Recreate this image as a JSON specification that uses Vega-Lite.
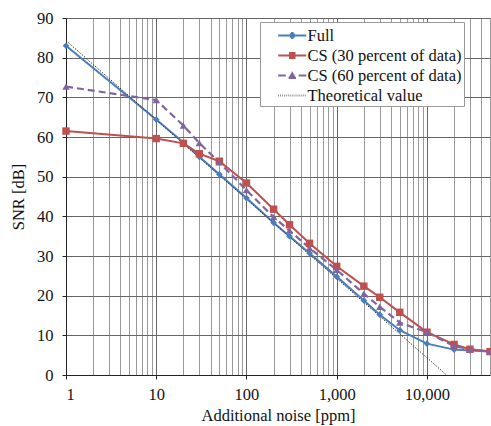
{
  "$schema": "https://vega.github.io/schema/vega-lite/v6.json",
  "width": 424,
  "height": 357,
  "autosize": "none",
  "padding": {"left": 66, "top": 18, "right": 1, "bottom": 51},
  "background": "white",
  "config": {"view": {"stroke": null}, "font": "Liberation Serif"},
  "data": {"values": [
    {"series": "Full", "noise": 1, "snr": 83.0},
    {"series": "Full", "noise": 10, "snr": 64.4},
    {"series": "Full", "noise": 20, "snr": 58.6},
    {"series": "Full", "noise": 30, "snr": 55.0},
    {"series": "Full", "noise": 50, "snr": 50.6},
    {"series": "Full", "noise": 100, "snr": 44.6},
    {"series": "Full", "noise": 200, "snr": 38.4},
    {"series": "Full", "noise": 300, "snr": 35.0},
    {"series": "Full", "noise": 500, "snr": 30.7},
    {"series": "Full", "noise": 1000, "snr": 24.8},
    {"series": "Full", "noise": 2000, "snr": 18.8},
    {"series": "Full", "noise": 3000, "snr": 15.2},
    {"series": "Full", "noise": 5000, "snr": 11.3},
    {"series": "Full", "noise": 10000, "snr": 7.9},
    {"series": "Full", "noise": 20000, "snr": 6.4},
    {"series": "Full", "noise": 30000, "snr": 6.2},
    {"series": "Full", "noise": 50000, "snr": 5.9},
    {"series": "CS (30 percent of data)", "noise": 1, "snr": 61.5},
    {"series": "CS (30 percent of data)", "noise": 10, "snr": 59.6},
    {"series": "CS (30 percent of data)", "noise": 20, "snr": 58.4},
    {"series": "CS (30 percent of data)", "noise": 30, "snr": 55.8},
    {"series": "CS (30 percent of data)", "noise": 50, "snr": 53.9},
    {"series": "CS (30 percent of data)", "noise": 100, "snr": 48.4},
    {"series": "CS (30 percent of data)", "noise": 200, "snr": 41.8},
    {"series": "CS (30 percent of data)", "noise": 300, "snr": 37.9},
    {"series": "CS (30 percent of data)", "noise": 500, "snr": 33.2},
    {"series": "CS (30 percent of data)", "noise": 1000, "snr": 27.4},
    {"series": "CS (30 percent of data)", "noise": 2000, "snr": 22.4},
    {"series": "CS (30 percent of data)", "noise": 3000, "snr": 19.6},
    {"series": "CS (30 percent of data)", "noise": 5000, "snr": 15.8},
    {"series": "CS (30 percent of data)", "noise": 10000, "snr": 10.8},
    {"series": "CS (30 percent of data)", "noise": 20000, "snr": 7.7},
    {"series": "CS (30 percent of data)", "noise": 30000, "snr": 6.5},
    {"series": "CS (30 percent of data)", "noise": 50000, "snr": 5.9},
    {"series": "CS (60 percent of data)", "noise": 1, "snr": 72.7},
    {"series": "CS (60 percent of data)", "noise": 10, "snr": 69.3},
    {"series": "CS (60 percent of data)", "noise": 20, "snr": 62.9},
    {"series": "CS (60 percent of data)", "noise": 30, "snr": 58.5},
    {"series": "CS (60 percent of data)", "noise": 50, "snr": 53.6},
    {"series": "CS (60 percent of data)", "noise": 100, "snr": 46.6},
    {"series": "CS (60 percent of data)", "noise": 200, "snr": 39.8},
    {"series": "CS (60 percent of data)", "noise": 300, "snr": 36.4},
    {"series": "CS (60 percent of data)", "noise": 500, "snr": 32.0},
    {"series": "CS (60 percent of data)", "noise": 1000, "snr": 26.5},
    {"series": "CS (60 percent of data)", "noise": 2000, "snr": 20.5},
    {"series": "CS (60 percent of data)", "noise": 3000, "snr": 17.2},
    {"series": "CS (60 percent of data)", "noise": 5000, "snr": 13.2},
    {"series": "CS (60 percent of data)", "noise": 10000, "snr": 10.8},
    {"series": "CS (60 percent of data)", "noise": 20000, "snr": 7.3},
    {"series": "CS (60 percent of data)", "noise": 30000, "snr": 6.5},
    {"series": "CS (60 percent of data)", "noise": 50000, "snr": 5.9},
    {"series": "Theoretical value", "noise": 1, "snr": 84.3},
    {"series": "Theoretical value", "noise": 16500, "snr": 0}
  ]},
  "encoding": {
    "x": {
      "field": "noise", "type": "quantitative",
      "scale": {"type": "log", "domain": [1, 50000], "nice": false},
      "axis": {
        "title": "Additional noise [ppm]",
        "values": [1,2,3,4,5,6,7,8,9,10,20,30,40,50,60,70,80,90,100,200,300,400,500,600,700,800,900,1000,2000,3000,4000,5000,6000,7000,8000,9000,10000,20000,30000,40000,50000],
        "format": ",",
        "labelExpr": "indexof([1,10,100,1000,10000], datum.value) >= 0 ? datum.label : ''",
        "labelFont": "Liberation Serif", "labelFontSize": 16.5, "labelColor": "#111",
        "labelPadding": 7, "labelOverlap": false,
        "titleFont": "Liberation Serif", "titleFontSize": 16.5, "titleFontWeight": "normal", "titleColor": "#111", "titlePadding": 5,
        "domainColor": "#222", "domainWidth": 1,
        "tickColor": "#222",
        "tickSize": {"condition": {"test": "indexof([1,10,100,1000,10000], datum.value) >= 0", "value": 4}, "value": 0},
        "grid": true,
        "gridColor": {"condition": {"test": "indexof([1,10,100,1000,10000], datum.value) >= 0", "value": "#666"}, "value": "#999999"},
        "gridWidth": 1
      }
    },
    "y": {
      "field": "snr", "type": "quantitative",
      "scale": {"domain": [0, 90], "nice": false},
      "axis": {
        "title": "SNR [dB]",
        "values": [0,10,20,30,40,50,60,70,80,90],
        "labelFont": "Liberation Serif", "labelFontSize": 16.5, "labelColor": "#111",
        "labelPadding": 9,
        "titleFont": "Liberation Serif", "titleFontSize": 16.5, "titleFontWeight": "normal", "titleColor": "#111", "titlePadding": 10,
        "domainColor": "#222", "tickColor": "#222", "tickSize": 4,
        "grid": true, "gridColor": "#666", "gridWidth": 1
      }
    }
  },
  "layer": [
    {
      "transform": [{"filter": "datum.series === 'Full'"}],
      "mark": {"type": "line", "strokeWidth": 2, "color": "#4a7ebb"},
      "encoding": {"order": {"field": "noise", "type": "quantitative"}}
    },
    {
      "transform": [{"filter": "datum.series === 'CS (30 percent of data)'"}],
      "mark": {"type": "line", "strokeWidth": 2, "color": "#c0504d"},
      "encoding": {"order": {"field": "noise", "type": "quantitative"}}
    },
    {
      "transform": [{"filter": "datum.series === 'CS (60 percent of data)'"}],
      "mark": {"type": "line", "strokeWidth": 2.2, "color": "#8064a2", "strokeDash": [7, 4]},
      "encoding": {"order": {"field": "noise", "type": "quantitative"}}
    },
    {
      "transform": [{"filter": "datum.series === 'Theoretical value'"}],
      "mark": {"type": "line", "strokeWidth": 1, "color": "#333", "strokeDash": [1.5, 1.5]},
      "encoding": {}
    },
    {
      "transform": [{"filter": "datum.series === 'Full'"}],
      "mark": {"type": "point", "filled": true, "opacity": 1, "size": 45, "shape": "diamond", "color": "#4a7ebb"},
      "encoding": {}
    },
    {
      "transform": [{"filter": "datum.series === 'CS (30 percent of data)'"}],
      "mark": {"type": "point", "filled": true, "opacity": 1, "size": 55, "shape": "square", "color": "#c0504d"},
      "encoding": {}
    },
    {
      "transform": [{"filter": "datum.series === 'CS (60 percent of data)'"}],
      "mark": {"type": "point", "filled": true, "opacity": 1, "size": 55, "shape": "triangle-up", "color": "#8064a2"},
      "encoding": {}
    },
    {
      "transform": [{"filter": "datum.noise == 1"}],
      "mark": {"type": "point", "filled": false, "opacity": 0},
      "encoding": {
        "color": {"field": "series", "type": "nominal",
          "scale": {"domain": ["Full", "CS (30 percent of data)", "CS (60 percent of data)", "Theoretical value"], "range": ["#4a7ebb", "#c0504d", "#8064a2", "#666666"]},
          "legend": {
            "title": null, "orient": "none", "legendX": 194, "legendY": 4,
            "symbolSize": 420, "symbolStrokeWidth": 2, "symbolOpacity": 1,
            "labelFont": "Liberation Serif", "labelFontSize": 16.5, "labelColor": "#111", "labelOffset": 22.5,
            "labelExpr": "datum.label + '\u00a0\u00a0\u00a0\u00a0\u00a0\u00a0'",
            "padding": 2, "rowPadding": 0, "strokeColor": "#999", "fillColor": "white"
          }},
        "shape": {"field": "series", "type": "nominal",
          "scale": {"domain": ["Full", "CS (30 percent of data)", "CS (60 percent of data)", "Theoretical value"],
            "range": [
              "M0.46,0H3.2M1.71,-0.24H1.95M1.59,-0.12H2.07M1.71,0.24H1.95M1.59,0.12H2.07",
              "M0.46,0H3.2M1.51,-0.24H2.15M1.51,-0.12H2.15M1.51,0.12H2.15M1.51,0.24H2.15",
              "M0.46,0H1.2M2.46,0H3.2M1.76,-0.26H1.9M1.685,-0.13H1.975M1.61,0H2.05M1.535,0.13H2.125M1.47,0.24H2.19",
              "M0.46,0h0.07M0.66,0h0.07M0.86,0h0.07M1.06,0h0.07M1.26,0h0.07M1.46,0h0.07M1.66,0h0.07M1.86,0h0.07M2.06,0h0.07M2.26,0h0.07M2.46,0h0.07M2.66,0h0.07M2.86,0h0.07M3.06,0h0.07"
            ]},
          "legend": {
            "title": null, "orient": "none", "legendX": 194, "legendY": 4,
            "symbolSize": 420, "symbolStrokeWidth": 2, "symbolOpacity": 1,
            "labelFont": "Liberation Serif", "labelFontSize": 16.5, "labelColor": "#111", "labelOffset": 22.5,
            "labelExpr": "datum.label + '\u00a0\u00a0\u00a0\u00a0\u00a0\u00a0'",
            "padding": 2, "rowPadding": 0, "strokeColor": "#999", "fillColor": "white"
          }}
      }
    }
  ]
}
